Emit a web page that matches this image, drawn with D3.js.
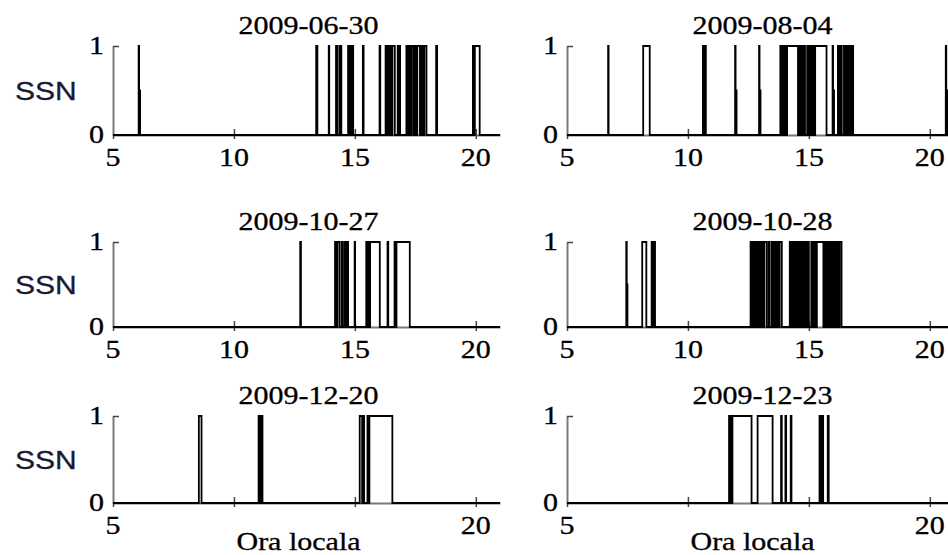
<!DOCTYPE html>
<html>
<head>
<meta charset="utf-8">
<script src="https://cdn.jsdelivr.net/npm/d3@7/dist/d3.min.js"></script>
<style>
body { margin: 0; background: #fff; }
</style>
</head>
<body>
<div id="chart"></div>
<script>
// dates shown above each panel (row by row, left then right)
var dates = ["2009-06-30", "2009-08-04", "2009-10-27", "2009-10-28", "2009-12-20", "2009-12-23"];
var xTicks = [5, 10, 15, 20];
var xTicksLast = [5, 20];
var yTicks = [0, 1];

// SSN pulses in local hours: [on, off] or [on, drop to 0.5, off]
var ssn0630 = [[6.06, 6.08, 6.12], [13.40, 13.45], [13.92, 13.94], [14.22, 14.28], [14.37, 14.44],
	[14.72, 14.76], [14.79, 14.83], [14.86, 14.93], [15.33, 15.36], [16.02, 16.05],
	[16.27, 16.33], [16.36, 16.42], [16.45, 16.52], [16.55, 16.65], [16.77, 16.80], [16.83, 16.87],
	[17.13, 17.18], [17.22, 17.28], [17.33, 17.41], [17.47, 17.52], [17.58, 17.69],
	[17.75, 17.80], [17.87, 17.96], [18.36, 18.40], [19.88, 19.93], [19.96, 20.16]];
var ssn0804 = [[6.70, 6.72], [8.15, 8.42], [10.62, 10.66], [10.69, 10.74], [11.95, 11.97, 12.01],
	[12.94, 12.96, 13.00], [13.82, 13.86], [13.89, 13.93], [13.96, 14.00], [14.03, 14.07], [14.10, 14.55],
	[14.60, 14.65], [14.69, 14.74], [14.80, 14.84], [14.93, 14.98], [15.02, 15.06], [15.10, 15.14],
	[15.18, 15.22], [15.26, 15.73], [15.98, 16.00, 16.04], [16.20, 16.26], [16.30, 16.36],
	[16.45, 16.52], [16.57, 16.63], [16.68, 16.74], [16.77, 16.83], [20.66, 20.68, 20.72]];
var ssn1027 = [[12.74, 12.77], [14.18, 14.24], [14.28, 14.37], [14.46, 14.50], [14.58, 14.62],
	[14.68, 14.72], [14.99, 15.01], [15.47, 15.52], [15.55, 15.60], [15.63, 16.03],
	[16.35, 16.38], [16.64, 16.68], [16.72, 17.27]];
var ssn1028 = [[7.45, 7.47, 7.50], [8.11, 8.28], [8.50, 8.55], [8.58, 8.64],
	[12.59, 12.64], [12.67, 12.72], [12.75, 12.80], [12.83, 12.88], [12.91, 12.96], [12.99, 13.04],
	[13.07, 13.12], [13.15, 13.25], [13.33, 13.36], [13.45, 13.48], [13.55, 13.60], [13.63, 13.68],
	[13.71, 13.76], [13.79, 13.88], [14.21, 14.26], [14.29, 14.34], [14.37, 14.42], [14.45, 14.50],
	[14.53, 14.58], [14.61, 14.66], [14.69, 14.74], [14.77, 14.83], [14.86, 14.90], [14.97, 15.00],
	[15.10, 15.15], [15.18, 15.23], [15.26, 15.30], [15.33, 15.60], [15.63, 15.68], [15.71, 15.76],
	[15.79, 15.84], [15.87, 15.92], [15.95, 16.00], [16.03, 16.08], [16.11, 16.16], [16.19, 16.24],
	[16.27, 16.35]];
var ssn1220 = [[8.55, 8.66], [11.02, 11.08], [11.12, 11.18], [15.20, 15.30], [15.33, 15.38],
	[15.52, 15.56], [15.60, 16.55]];
var ssn1223 = [[11.70, 11.74], [11.77, 11.81], [11.84, 12.63], [12.88, 13.50], [13.85, 13.88],
	[14.03, 14.06], [14.25, 14.28], [15.44, 15.49], [15.53, 15.59], [15.78, 15.82]];

var series = [ssn0630, ssn0804, ssn1027, ssn1028, ssn1220, ssn1223];

var W = 948, H = 555;
var cols = [[113, 500], [567, 954]];
var rows = [[46, 135], [242, 327], [416, 503]];
var stretch = 1.2;
var fs = 25;
var serif = "'Liberation Serif', 'Times New Roman', serif";
var axisColor = "#7a7a7a";

var svg = d3.select("#chart").append("svg")
	.attr("width", W)
	.attr("height", H);

// text drawn a bit wider than normal, like the source picture
function wideText(g, x, y, str, size, anchor, family, color) {
	return g.append("text")
		.attr("transform", "translate(" + x + "," + y + ") scale(" + stretch + ",1)")
		.attr("text-anchor", anchor)
		.style("font-family", family)
		.style("font-size", size + "px")
		.style("fill", color || "#000")
		.style("stroke", color || "#000")
		.style("stroke-width", 0.3)
		.text(str);
}

series.forEach(function(pulses, i) {
	var col = cols[i % 2], row = rows[Math.floor(i / 2)];
	var last = Math.floor(i / 2) == 2;

	var x = d3.scaleLinear().domain([5, 21]).range(col);
	var y = d3.scaleLinear().domain([0, 1]).range([row[1], row[0]]);

	var g = svg.append("g");

	// step signal
	var pts = [[5, 0]];
	pulses.forEach(function(p) {
		pts.push([p[0], 1]);
		if (p.length == 3) {
			pts.push([p[1], 0.5]);
			pts.push([p[2], 0]);
		} else {
			pts.push([p[1], 0]);
		}
	});
	pts.push([21, 0]);

	var line = d3.line()
		.x(function(d) { return x(d[0]); })
		.y(function(d) { return y(d[1]); })
		.curve(d3.curveStepAfter);

	// x axis
	var xAxis = g.append("g")
		.attr("transform", "translate(0," + row[1] + ")")
		.call(d3.axisBottom(x).tickValues(xTicks).tickSizeInner(4).tickSizeOuter(0));
	xAxis.select(".domain").attr("stroke", axisColor).attr("stroke-width", 2);
	xAxis.selectAll(".tick line")
		.attr("y1", function(d) { return d == 5 ? 0 : -6; })
		.attr("stroke", "#444").attr("stroke-width", 1.5);
	xAxis.selectAll(".tick text").remove();
	xTicks.forEach(function(t) {
		if (last && xTicksLast.indexOf(t) < 0) return;
		wideText(g, x(t), row[1] + 31, t, fs, "middle", serif);
	});

	// y axis
	var yAxis = g.append("g")
		.attr("transform", "translate(" + col[0] + ",0)")
		.call(d3.axisLeft(y).tickValues(yTicks).tickSizeInner(7).tickSizeOuter(0));
	yAxis.select(".domain").attr("stroke", axisColor).attr("stroke-width", 2);
	yAxis.selectAll(".tick line")
		.attr("x2", function(d) { return d == 1 ? 6 : 0; })
		.attr("stroke", "#444").attr("stroke-width", 1.5);
	yAxis.selectAll(".tick text").remove();
	yTicks.forEach(function(t) {
		wideText(g, col[0] - 9, y(t) + 8, t, fs, "end", serif);
	});

	g.append("path")
		.datum(pts)
		.attr("d", line)
		.attr("fill", "none")
		.attr("stroke", "#000")
		.attr("stroke-width", 1.8);

	// date above the panel
	wideText(g, (col[0] + col[1]) / 2 + 2, row[0] - 12, dates[i], fs, "middle", serif);

	if (i % 2 == 0) {
		wideText(g, 15, (row[0] + row[1]) / 2 + 9, "SSN", 25, "start", "Arial, 'Liberation Sans', sans-serif", "#1a1a33");
	}
	if (last) {
		wideText(g, (col[0] + col[1]) / 2 - 8, H - 5, "Ora locala", fs, "middle", serif);
	}
});
</script>
</body>
</html>
